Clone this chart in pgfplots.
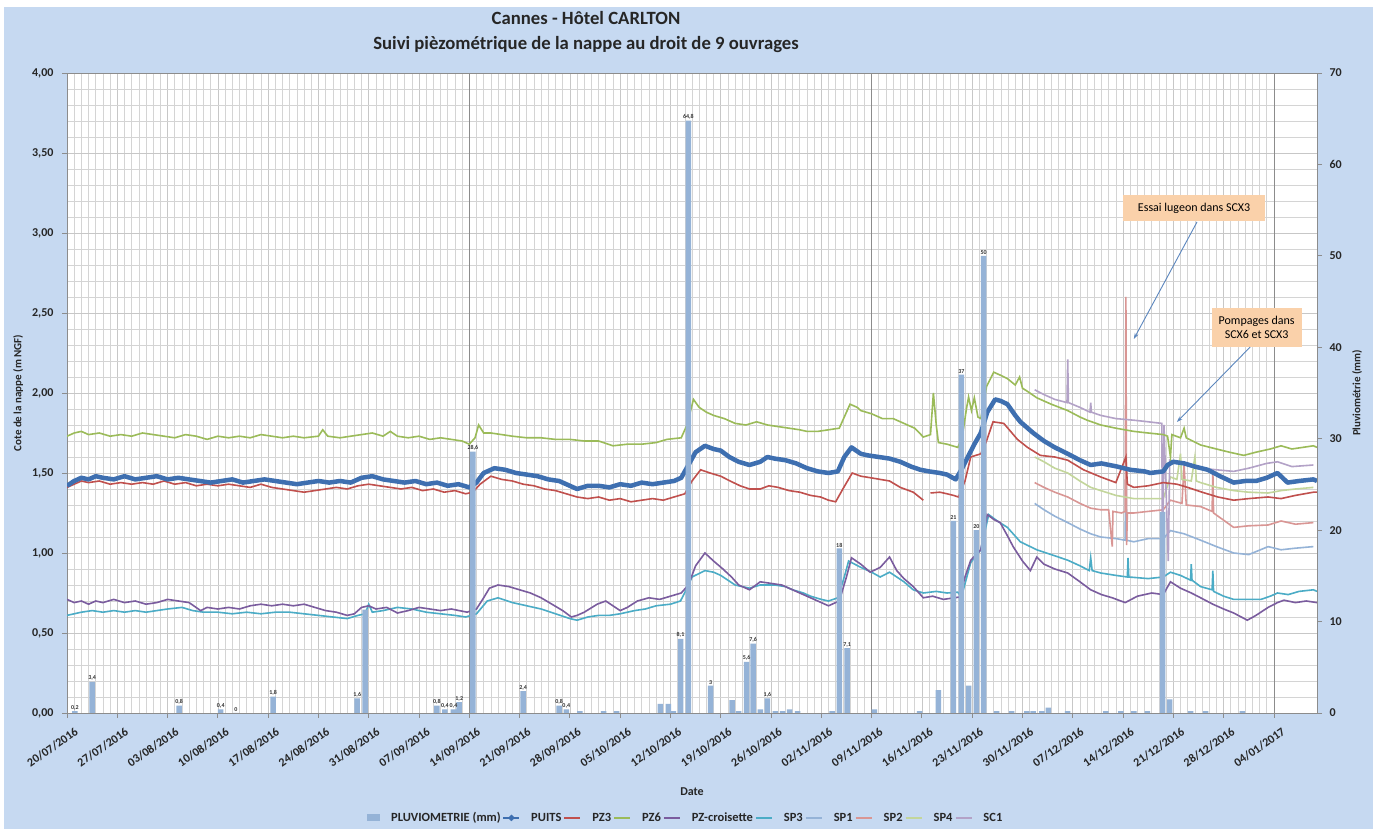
\documentclass[border=0pt]{standalone}
\usepackage{pgfplots}
\pgfplotsset{compat=1.18}
\usepackage{pgfplotstable}
\usepackage{fontspec}
\setmainfont{Carlito}
\usetikzlibrary{arrows.meta}
\definecolor{bgblue}{HTML}{C6D9F1}
\definecolor{cpuits}{HTML}{3E6FB0}
\definecolor{cpz3}{HTML}{C0504D}
\definecolor{cpz6}{HTML}{9BBB59}
\definecolor{cpzc}{HTML}{7A5C9E}
\definecolor{csp3}{HTML}{4BACC6}
\definecolor{csp1}{HTML}{95B3D7}
\definecolor{csp2}{HTML}{D99694}
\definecolor{csp4}{HTML}{C3D69B}
\definecolor{csc1}{HTML}{B3A2C7}
\definecolor{cbar}{HTML}{95B3D7}
\definecolor{peach}{HTML}{FAD1AA}
\definecolor{arrowblue}{HTML}{5B86BE}
\newcommand\tickfont{\fontsize{12}{12}\selectfont\bfseries}

\pgfplotstableread{
x y
0 1.42
1 1.45
2 1.47
3 1.46
4 1.48
5 1.47
6.5 1.46
8 1.48
9.5 1.46
11 1.47
12.5 1.48
14 1.46
15.5 1.47
17 1.46
18.5 1.45
20 1.44
21.5 1.45
23 1.46
24.5 1.44
26 1.45
27.5 1.46
29 1.45
30.5 1.44
32 1.43
33.5 1.44
35 1.45
36.5 1.44
38 1.45
39.5 1.44
41 1.47
42.5 1.48
44 1.46
45.5 1.45
47 1.44
48.5 1.45
50 1.43
51.5 1.44
53 1.42
54.5 1.43
56 1.41
57 1.44
58 1.50
59.5 1.53
61 1.52
62.5 1.50
64 1.49
65.5 1.48
67 1.46
68.5 1.45
70 1.42
71 1.40
72.5 1.42
74 1.42
75.5 1.41
77 1.43
78.5 1.42
80 1.44
81.5 1.43
83 1.44
84.5 1.45
85.5 1.47
86.5 1.55
87.5 1.63
88.8 1.67
90 1.65
91 1.64
92.2 1.60
93.5 1.57
95 1.55
96.5 1.57
97.5 1.60
98.5 1.59
100 1.58
101.5 1.56
103 1.53
104.5 1.51
106 1.50
107.3 1.51
108.2 1.60
109.2 1.66
110.5 1.62
111.5 1.61
113 1.60
114.5 1.59
116 1.57
117.5 1.54
118.8 1.52
120 1.51
121.5 1.50
122.5 1.49
123.7 1.46
124.5 1.52
125.4 1.60
126.3 1.68
127.2 1.75
128.1 1.88
129.2 1.96
130 1.95
130.9 1.93
132 1.86
132.7 1.82
134.5 1.75
136 1.70
137.5 1.66
139.3 1.62
141 1.58
142.5 1.55
144 1.56
146.2 1.54
148 1.52
150 1.51
150.8 1.50
152.6 1.51
153.2 1.55
154 1.57
155.5 1.56
157 1.54
158.8 1.52
160.5 1.48
162.4 1.44
164 1.45
165.5 1.45
167 1.47
168.5 1.50
169.9 1.44
171.5 1.45
173.5 1.46
174 1.45
}\puits

\pgfplotstableread{
x y
0 1.41
1 1.43
2 1.45
3 1.44
4.5 1.45
6 1.43
7.5 1.44
9 1.43
10.5 1.44
12 1.43
13.5 1.45
15 1.43
16.5 1.44
18 1.42
19.5 1.43
21 1.42
22.5 1.43
24 1.42
25.5 1.41
27 1.43
28.5 1.41
30 1.40
31.5 1.39
33 1.38
34.5 1.39
36 1.40
37.5 1.41
39 1.40
40.5 1.42
42 1.43
43.5 1.42
45 1.41
46.5 1.40
48 1.41
49.5 1.39
51 1.40
52.5 1.38
54 1.39
55.5 1.37
56.5 1.38
57.5 1.43
59 1.48
60.5 1.46
62 1.45
63.5 1.43
65 1.42
66.5 1.40
68 1.39
69.5 1.37
71 1.35
72.5 1.34
74 1.35
75.5 1.33
77 1.34
78.5 1.32
80 1.33
81.5 1.34
83 1.33
84.5 1.35
86 1.37
87 1.45
88.2 1.52
89.5 1.50
91 1.48
92.3 1.45
93.7 1.42
95 1.40
96.5 1.40
97.7 1.42
99 1.41
100.5 1.39
102 1.38
103.5 1.36
104.9 1.35
106 1.33
107 1.32
108 1.40
109.3 1.50
110.5 1.48
111.9 1.47
113.2 1.46
114.5 1.45
116 1.41
117.8 1.38
119.2 1.33
119.7 nan
120.2 1.375
121.5 1.38
122.5 1.37
123.4 1.36
124.1 1.35
125 1.45
125.8 1.60
127.2 1.62
128 1.70
128.9 1.82
130.4 1.81
132.3 1.71
133.7 1.66
135.5 1.61
137.5 1.60
139.3 1.58
141.5 1.52
143.9 1.475
146 1.44
147.4 1.60
147.6 1.43
148.5 1.41
150.5 1.42
152.6 1.44
154.5 1.43
156 1.41
158 1.38
160.2 1.35
162.4 1.33
164.5 1.34
167.2 1.35
169 1.34
171 1.36
173.5 1.38
174 1.38
}\pzthree

\pgfplotstableread{
x y
0 1.73
1 1.75
2 1.76
3 1.74
4.5 1.75
6 1.73
7.5 1.74
9 1.73
10.5 1.75
12 1.74
13.5 1.73
15 1.72
16.5 1.74
18 1.73
19.5 1.71
21 1.73
22.5 1.72
24 1.73
25.5 1.72
27 1.74
28.5 1.73
30 1.72
31.5 1.73
33 1.72
35 1.73
35.6 1.77
36.3 1.73
38 1.72
39.5 1.73
41 1.74
42.5 1.75
44 1.73
45 1.76
46 1.73
47.5 1.72
49 1.73
50.5 1.71
52 1.72
53.5 1.71
55 1.70
56 1.68
56.8 1.72
57.3 1.80
58 1.75
59 1.75
60.5 1.74
62 1.73
64 1.72
66 1.72
68 1.71
70 1.71
72 1.70
74 1.70
76 1.67
78 1.68
80 1.68
82 1.69
83.5 1.71
85.5 1.72
86.3 1.80
87.2 1.96
88 1.91
89 1.88
90 1.86
91.5 1.84
93 1.81
94.5 1.80
96 1.82
97.5 1.80
99 1.79
100.5 1.78
102 1.77
103 1.76
104.5 1.76
106 1.77
107.5 1.78
108.3 1.86
109 1.93
110 1.91
110.5 1.89
112 1.87
113.5 1.84
115 1.84
116.5 1.81
118 1.78
119.2 1.725
120.2 1.74
120.6 2.00
121 1.80
121.3 1.69
122.5 1.68
124 1.66
124.6 1.72
125.2 1.90
125.5 1.975
125.9 1.89
126.3 1.97
126.8 1.85
127.2 1.84
128 2.04
129 2.13
130 2.11
130.9 2.09
132 2.05
132.6 2.10
133 2.03
133.7 2.01
135 1.97
137 1.93
139.3 1.89
141 1.85
142 1.83
143.9 1.80
146 1.78
148.5 1.76
150.5 1.75
152.6 1.74
153.2 1.73
153.6 1.60
153.8 1.74
155 1.72
155.5 1.78
155.8 1.72
157.8 1.675
160 1.65
161.8 1.63
163.8 1.61
165.5 1.63
167.5 1.65
169 1.67
170.5 1.65
172 1.66
173.5 1.67
174 1.66
}\pzsix

\pgfplotstableread{
x y
0 0.71
1 0.69
2 0.70
3 0.68
4 0.70
5 0.69
6.5 0.71
8 0.69
9.5 0.70
11 0.68
12.5 0.69
14 0.71
15.5 0.70
17 0.69
18.6 0.64
19.5 0.66
21 0.65
22.5 0.66
24 0.65
25.5 0.67
27 0.68
28.5 0.67
30 0.68
31.5 0.67
33 0.68
34.5 0.66
36 0.64
37.5 0.63
39 0.61
40 0.62
41 0.66
42 0.67
43 0.65
44.5 0.66
46 0.625
47.5 0.64
49 0.66
50.5 0.65
52 0.64
53.5 0.65
55.7 0.63
57 0.65
58 0.72
58.8 0.78
60 0.80
61.5 0.79
63 0.77
64.5 0.75
66 0.72
67.5 0.68
69 0.64
70.2 0.60
71 0.61
72 0.63
73.8 0.68
75 0.70
76 0.67
77 0.64
78 0.66
79.4 0.70
81 0.72
82.5 0.71
84 0.73
85.5 0.75
86.5 0.80
87.5 0.92
88.8 1.00
90 0.95
91.3 0.90
92.5 0.85
93.5 0.80
95 0.77
96.5 0.82
98 0.81
99.5 0.80
101 0.77
102.5 0.74
104 0.71
105 0.69
106 0.67
107.5 0.70
108.5 0.85
109.2 0.97
110.5 0.93
111.8 0.88
113.2 0.91
114.5 0.975
115.5 0.89
116.5 0.84
117.8 0.79
119.2 0.72
120.5 0.73
122 0.71
123.5 0.72
124.3 0.725
125 0.85
125.8 0.955
127.2 1.02
128.1 1.24
129 1.21
129.9 1.19
131 1.10
131.7 1.04
133 0.95
134.1 0.89
135 0.975
136 0.93
137.5 0.90
139.3 0.875
141 0.82
142.5 0.77
144 0.74
145.5 0.72
147.3 0.69
149 0.73
151 0.75
152.6 0.74
153.6 0.82
155 0.78
156.5 0.75
157.8 0.72
159.5 0.68
161 0.65
162.4 0.625
164.3 0.58
165.5 0.61
167.2 0.66
168.5 0.69
169.4 0.705
171 0.69
172.5 0.70
174 0.69
}\pzcroi

\pgfplotstableread{
x y
0 0.61
1 0.62
2 0.63
3.5 0.64
5 0.63
6.5 0.64
8 0.63
9.5 0.64
11 0.63
12.5 0.64
14 0.65
16 0.66
17.5 0.64
19 0.63
21 0.63
23 0.62
25 0.63
27 0.62
29 0.63
31 0.63
33 0.62
35 0.61
37 0.60
39 0.59
40.5 0.61
41.5 0.62
42 0.68
42.5 0.63
44 0.64
46 0.66
48 0.65
50 0.63
52 0.62
54 0.61
55.5 0.60
57 0.62
58.5 0.70
60 0.72
62 0.69
64 0.67
66 0.65
68 0.62
70 0.59
71 0.58
72.5 0.60
74 0.61
75.5 0.61
77 0.62
79 0.64
80.5 0.65
82 0.67
84 0.68
85.4 0.70
86.3 0.78
87 0.85
88.8 0.89
90 0.88
91 0.86
92 0.83
93 0.80
95 0.78
96.5 0.80
98.5 0.80
100 0.79
101 0.77
102.5 0.75
103.5 0.73
105 0.71
106 0.70
107.3 0.72
108.2 0.85
108.8 0.95
110.5 0.91
112 0.88
113.2 0.85
114.5 0.88
115.5 0.85
116.5 0.82
117.8 0.77
119.2 0.75
121 0.76
122.5 0.75
124 0.755
124.5 0.725
125.8 0.94
127.2 1.02
128.3 1.24
129.5 1.20
130.9 1.16
132.7 1.07
135 1.02
137 0.99
139.3 0.955
141 0.92
142.3 0.89
142.5 0.97
142.7 0.89
143.9 0.875
146 0.86
147.6 0.85
147.7 0.97
147.8 0.85
150.5 0.84
152.6 0.85
153.6 0.88
155 0.86
156.4 0.83
156.5 0.93
156.6 0.83
157.8 0.79
159.4 0.77
159.5 0.89
159.6 0.76
161 0.73
162.4 0.71
164.5 0.71
166.2 0.71
167.5 0.73
168.5 0.75
170 0.74
171.5 0.76
173.5 0.77
174 0.76
}\spthree

\pgfplotstableread{
x y
134.7 1.31
136 1.27
137.5 1.23
139.3 1.19
141 1.15
142.5 1.12
143.9 1.10
146 1.09
147.3 1.08
147.4 1.85
147.5 1.08
148.5 1.07
150.5 1.09
152.6 1.09
153.6 1.14
155.5 1.12
157.8 1.08
160 1.04
162.4 1.00
164.5 0.99
167.2 1.04
169 1.02
171 1.03
173.5 1.04
}\spone

\pgfplotstableread{
x y
134.7 1.44
136 1.41
137.5 1.38
139.3 1.35
141 1.31
142.5 1.28
143.9 1.27
145 1.27
145.5 1.04
145.6 1.26
146.8 1.25
147.3 1.26
147.4 2.60
147.5 1.05
147.6 1.25
148.5 1.25
150.5 1.26
152.6 1.27
153.6 1.33
155.2 1.31
155.5 1.55
155.8 1.30
157.8 1.29
159.4 1.26
159.5 1.52
159.6 1.25
162.4 1.16
164.5 1.17
167.2 1.175
169 1.20
171 1.18
173.5 1.19
}\sptwo

\pgfplotstableread{
x y
134.7 1.60
136 1.57
137.5 1.53
139.3 1.50
141 1.45
142.5 1.41
143.9 1.39
146 1.36
148.5 1.34
150.5 1.34
152.6 1.34
153.6 1.475
154.5 1.46
155 1.62
155.2 1.46
156.5 1.45
157 1.60
157.2 1.45
157.8 1.44
160 1.41
162.4 1.39
164.5 1.38
167.2 1.375
169 1.39
171 1.40
173.5 1.41
}\spfour

\pgfplotstableread{
x y
134.7 2.02
136 1.99
137.5 1.96
139.2 1.94
139.3 2.21
139.4 1.94
141 1.91
142.4 1.88
142.5 1.94
142.6 1.88
143.9 1.86
146 1.84
148.5 1.83
150.5 1.82
152.4 1.81
152.5 0.90
152.7 1.80
153.3 0.95
153.5 1.58
155 1.56
157.8 1.53
160 1.52
162.4 1.51
164.5 1.53
167 1.56
168.5 1.57
170.5 1.54
173.5 1.55
}\scone

\pgfplotstableread{
x y lab
1.1 0.2 0,2
3.5 3.4 3,4
15.6 0.8 0,8
21.4 0.4 0,4
23.5 0 0
28.7 1.8 1,8
40.4 1.6 1,6
51.5 0.8 0,8
52.6 0.4 0,4
53.8 0.4 0,4
54.6 1.2 1,2
56.5 28.6 28,6
63.5 2.4 2,4
68.5 0.8 0,8
69.5 0.4 0,4
85.4 8.1 8,1
86.5 64.8 64,8
89.6 3 3
94.6 5.6 5,6
95.5 7.6 7,6
97.5 1.6 1,6
107.5 18 18
108.6 7.1 7,1
123.4 21 21
124.5 37 37
126.6 20 20
127.6 50 50
}\barlab

\pgfplotstableread{
x y
41.5 11.3
71.4 0.2
74.7 0.2
76.5 0.2
82.6 1.0
83.7 1.0
84.4 0.2
92.6 1.4
93.5 0.2
96.5 0.4
98.6 0.2
99.6 0.2
100.6 0.4
101.7 0.2
106.5 0.2
112.4 0.4
118.7 0.2
121.3 2.5
125.5 3.0
129.4 0.2
131.5 0.2
133.6 0.2
134.5 0.2
135.7 0.2
136.6 0.6
139.3 0.2
144.6 0.2
146.7 0.2
148.5 0.2
150.4 0.2
152.5 22
153.5 1.5
156.4 0.2
158.5 0.2
163.6 0.2
}\barnolab

\begin{document}
\begin{tikzpicture}
\fill[white] (0pt,0pt) rectangle (1373pt,829pt);
\fill[bgblue] (4pt,0pt) rectangle (1373pt,822pt);
\node[font=\fontsize{18.7}{18.7}\selectfont\bfseries, text=black!85] at (586pt,811pt) {Cannes - Hôtel CARLTON};
\node[font=\fontsize{18.7}{18.7}\selectfont\bfseries, text=black!85] at (586pt,784pt) {Suivi pièzométrique de la nappe au droit de 9 ouvrages};

\begin{axis}[
  at={(67pt,116pt)}, anchor=south west,
  width=1250pt, height=640pt, scale only axis,
  xmin=0, xmax=174, ymin=0, ymax=4,
  enlargelimits=false,
  axis background/.style={fill=white},
  axis line style={draw=black!45, line width=0.8pt},
  xtick={0,7,14,21,28,35,42,49,56,63,70,77,84,91,98,105,112,119,126,133,140,147,154,161,168},
  xticklabels={20/07/2016,27/07/2016,03/08/2016,10/08/2016,17/08/2016,24/08/2016,31/08/2016,07/09/2016,14/09/2016,21/09/2016,28/09/2016,05/10/2016,12/10/2016,19/10/2016,26/10/2016,02/11/2016,09/11/2016,16/11/2016,23/11/2016,30/11/2016,07/12/2016,14/12/2016,21/12/2016,28/12/2016,04/01/2017},
  minor x tick num=6,
  ytick={0,0.5,1,1.5,2,2.5,3,3.5,4},
  minor y tick num=4,
  grid=both,
  major grid style={draw=black!22, line width=0.7pt},
  minor grid style={draw=black!17, line width=0.6pt},
  tick align=outside, xtick pos=bottom, ytick pos=left,
  major tick length=5pt, minor tick length=0pt,
  tick style={draw=black!45, line width=0.8pt},
  ticklabel style={font=\tickfont, text=black!85},
  /pgf/number format/assume math mode=true,
  yticklabel style={xshift=-5pt, /pgf/number format/fixed, /pgf/number format/fixed zerofill, /pgf/number format/precision=2, /pgf/number format/use comma},
  xticklabel style={rotate=35, anchor=north east, inner sep=1pt, yshift=-10pt, xshift=2pt},
  xlabel={Date},
  xlabel style={at={(axis description cs:0.5,-0.123)}, anchor=center, font=\tickfont, text=black!85},
  ylabel={Cote de la nappe (m NGF)},
  ylabel style={at={(axis description cs:-0.039,0.5)}, anchor=center, font=\fontsize{11}{11}\selectfont\bfseries, text=black!85},
  extra x ticks={56,112,168}, extra x tick labels={},
  extra x tick style={grid=major, major grid style={draw=black!45, line width=0.8pt}, major tick length=0pt},
  unbounded coords=jump,
]
\addplot[csp3, line width=1.6pt] table[x=x,y=y] {\spthree};
\addplot[cpzc, line width=1.6pt] table[x=x,y=y] {\pzcroi};
\addplot[csp1, line width=1.6pt] table[x=x,y=y] {\spone};
\addplot[csp2, line width=1.6pt] table[x=x,y=y] {\sptwo};
\addplot[csp4, line width=1.6pt] table[x=x,y=y] {\spfour};
\addplot[csc1, line width=1.6pt] table[x=x,y=y] {\scone};
\addplot[cpz3, line width=1.6pt] table[x=x,y=y] {\pzthree};
\addplot[cpz6, line width=1.6pt] table[x=x,y=y] {\pzsix};
\addplot[cpuits, line width=4.5pt, line join=round] table[x=x,y=y] {\puits};

\node[fill=peach, font=\fontsize{12}{12}\selectfont, minimum width=142pt, minimum height=26pt, inner sep=2pt] at (axis cs:156.9,3.156) {Essai lugeon dans SCX3};
\draw[-{Stealth[length=6pt,width=4pt]}, arrowblue, line width=0.9pt] (axis cs:157.3,3.069) -- (axis cs:148.5,2.3375);
\node[fill=peach, font=\fontsize{12}{13.5}\selectfont, align=center, minimum width=90pt, minimum height=39pt, inner sep=2pt] at (axis cs:165.6,2.409) {Pompages dans\\SCX6 et SCX3};
\draw[-{Stealth[length=6pt,width=4pt]}, arrowblue, line width=0.9pt] (axis cs:164.7,2.2875) -- (axis cs:154.5,1.819);
\end{axis}

\begin{axis}[
  at={(67pt,116pt)}, anchor=south west,
  width=1250pt, height=640pt, scale only axis,
  xmin=0, xmax=174, ymin=0, ymax=70,
  enlargelimits=false,
  axis x line=none,
  axis y line*=right,
  axis line style={draw=black!45, line width=0.8pt},
  ytick={0,10,20,30,40,50,60,70},
  tick align=outside, major tick length=5pt,
  tick style={draw=black!45, line width=0.8pt},
  ticklabel style={font=\tickfont, text=black!85},
  yticklabel style={xshift=4pt},
  /pgf/number format/assume math mode=true,
  ylabel={Pluviométrie (mm)},
  ylabel style={at={(axis description cs:1.032,0.5)}, anchor=center, font=\fontsize{11}{11}\selectfont\bfseries, text=black!85},
  legend style={at={(axis description cs:0.495,-0.164)}, anchor=center, legend columns=-1, draw=none, fill=none,
    font=\fontsize{12.5}{12.5}\selectfont\bfseries, text=black!85,
    /tikz/every odd column/.append style={column sep=9pt}},
  legend image code/.code={\draw[#1] (0pt,0pt) -- (16pt,0pt);},
]
\addplot[ybar, bar width=5.5pt, bar shift=0pt, fill=cbar, draw=none,
  legend image code/.code={\fill[cbar] (0pt,-3.5pt) rectangle (13pt,3.5pt);},
  nodes near coords, point meta=explicit symbolic,
  nodes near coords style={font=\fontsize{6}{6}\selectfont\bfseries, text=black!80, inner sep=1pt, anchor=south}]
  table[x=x,y=y,meta=lab] {\barlab};
\addlegendentry{PLUVIOMETRIE (mm)}
\addplot[ybar, bar width=5.5pt, bar shift=0pt, fill=cbar, draw=none, forget plot] table[x=x,y=y] {\barnolab};
\addlegendimage{legend image code/.code={\draw[cpuits, line width=1.5pt] (0pt,0pt) -- (16pt,0pt); \fill[cpuits] (8pt,3pt) -- (11pt,0pt) -- (8pt,-3pt) -- (5pt,0pt) -- cycle;}}
\addlegendentry{PUITS}
\addlegendimage{cpz3, line width=2pt}
\addlegendentry{PZ3}
\addlegendimage{cpz6, line width=2pt}
\addlegendentry{PZ6}
\addlegendimage{cpzc, line width=2pt}
\addlegendentry{PZ-croisette}
\addlegendimage{csp3, line width=2pt}
\addlegendentry{SP3}
\addlegendimage{csp1, line width=2pt}
\addlegendentry{SP1}
\addlegendimage{csp2, line width=2pt}
\addlegendentry{SP2}
\addlegendimage{csp4, line width=2pt}
\addlegendentry{SP4}
\addlegendimage{csc1, line width=2pt}
\addlegendentry{SC1}
\end{axis}
\pgfresetboundingbox
\useasboundingbox (0pt,0pt) rectangle (1373pt,829pt);
\end{tikzpicture}
\end{document}
